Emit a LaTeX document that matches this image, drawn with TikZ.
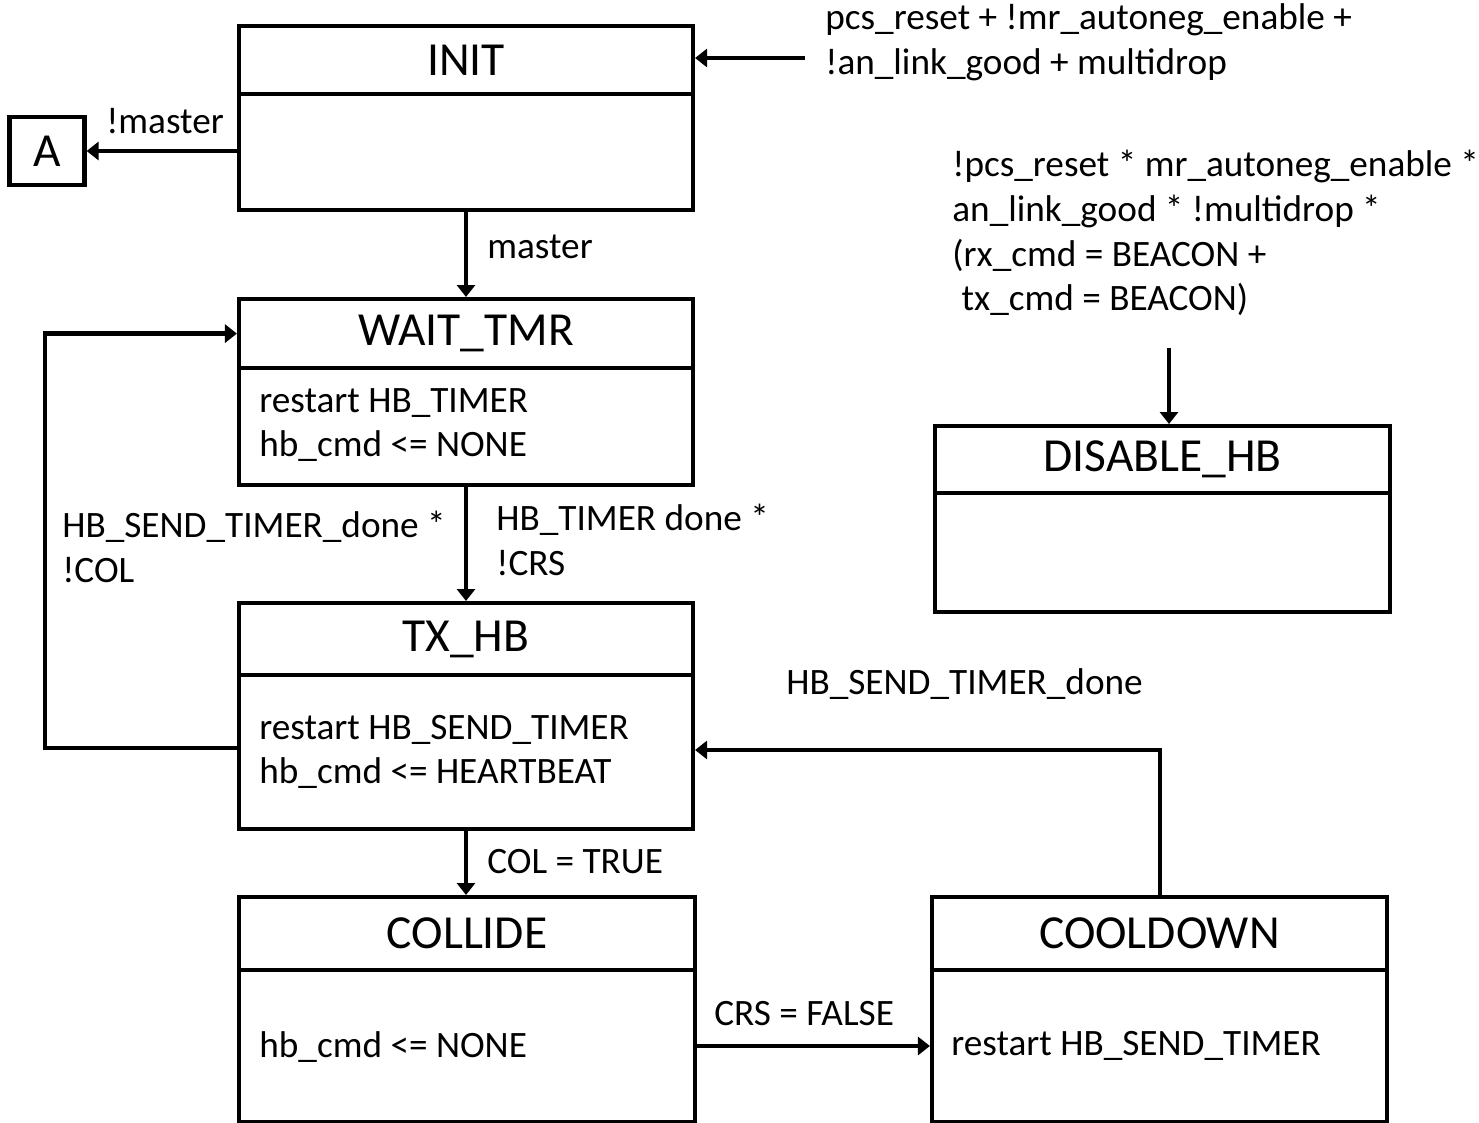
\documentclass[tikz,border=0pt]{standalone}
\usepackage{fontspec}
\setmainfont{Carlito}
\usepackage{tikz}
\usetikzlibrary{calc,arrows.meta,positioning}
\tikzset{
  ar/.style={-{Triangle[length=2.4mm,width=3.6mm]},line width=2.4pt,black},
  st/.style={draw,line width=2.4pt,minimum width=9.08cm,inner sep=0pt},
  ttl/.style={draw,line width=2.4pt,minimum width=9.08cm,inner sep=0pt,anchor=north,font=\fontsize{27pt}{30pt}\selectfont},
  txt/.style={inner sep=0pt,align=left,anchor=west,font=\fontsize{21.2pt}{25.5pt}\selectfont}
}

\begin{document}
\begin{tikzpicture}[x=0.02cm,y=-0.02cm]
\path[use as bounding box,fill=white] (0,0) rectangle (1479,1122);
% states
\node[st,anchor=north,minimum height=3.68cm] (init) at (466,24) {};
\node[ttl,minimum height=1.36cm] (init-t) at (init.north) {INIT};
\node[st,anchor=north,minimum height=3.72cm] (wait) at (466,297) {};
\node[ttl,minimum height=1.38cm] (wait-t) at (wait.north) {WAIT\_TMR};
\node[txt] (wait-b) at (259,425) {restart HB\_TIMER\\hb\_cmd <= NONE};
\node[st,anchor=north,minimum height=4.52cm] (tx) at (466,601) {};
\node[ttl,minimum height=1.44cm] (tx-t) at (tx.north) {TX\_HB};
\node[txt] (tx-b) at (259,752) {restart HB\_SEND\_TIMER\\hb\_cmd <= HEARTBEAT};
\node[st,anchor=north,minimum width=9.12cm,minimum height=4.5cm] (coll) at (467,895) {};
\node[ttl,minimum width=9.12cm,minimum height=1.46cm] (coll-t) at (coll.north) {COLLIDE};
\node[txt] (coll-b) at (259,1047) {hb\_cmd <= NONE};
\node[st,anchor=north,minimum width=9.1cm,minimum height=4.5cm] (cool) at (1159.5,895) {};
\node[ttl,minimum width=9.1cm,minimum height=1.46cm] (cool-t) at (cool.north) {COOLDOWN};
\node[txt] (cool-b) at (951,1046) {restart HB\_SEND\_TIMER};
\node[st,anchor=north,minimum width=9.1cm,minimum height=3.72cm] (dis) at (1162.5,424) {};
\node[ttl,minimum width=9.1cm,minimum height=1.34cm] (dis-t) at (dis.north) {DISABLE\_HB};
\node[st,minimum width=1.5cm,minimum height=1.36cm,font=\fontsize{27pt}{30pt}\selectfont] (a) at (47,151) {A};
% conditions
\node[txt] (c-init) at (825,42) {pcs\_reset + !mr\_autoneg\_enable +\\!an\_link\_good + multidrop};
\node[txt] (c-dis) at (952,233) {!pcs\_reset * mr\_autoneg\_enable *\\an\_link\_good * !multidrop *\\(rx\_cmd = BEACON +\\\hspace{0.25em}tx\_cmd = BEACON)};
\node[txt,anchor=center] (c-nm) at (165,121) {!master};
\node[txt] (c-m) at (487,247) {master};
\node[txt] (c-hbt) at (496,540) {HB\_TIMER done *\\!CRS};
\node[txt] (c-loop) at (62,547) {HB\_SEND\_TIMER\_done *\\!COL};
\node[txt] (c-col) at (487,862) {COL = TRUE};
\node[txt] (c-crs) at (714,1014) {CRS = FALSE};
\node[txt] (c-back) at (786,684) {HB\_SEND\_TIMER\_done};
% transitions
\coordinate (init-in) at (805,58);
\coordinate (dis-in) at (1169,348);
\coordinate (loop) at (45,748);
\coordinate (ret) at (1160,750);
\draw[ar] (init-in) -- (init-in -| init.east);
\draw[ar] (dis-in) -- (dis-in |- dis.north);
\draw[ar] (init.west |- a.east) -- (a.east);
\draw[ar] (init.south) -- (wait.north);
\draw[ar] (wait.south) -- (tx.north);
\draw[ar] (tx.south) -- (tx.south |- coll.north);
\draw[ar] (tx.west |- loop) -- (loop) |- (wait-t.west);
\draw[ar] (coll.east |- cool-b.west) -- (cool.west |- cool-b.west);
\draw[ar] (ret |- cool.north) -- (ret) -- (ret -| tx.east);
\end{tikzpicture}
\end{document}
